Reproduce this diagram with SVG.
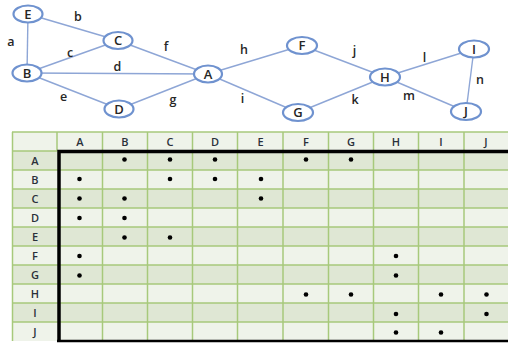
<svg xmlns="http://www.w3.org/2000/svg" width="508" height="345" viewBox="0 0 508 345">
  <defs>
    <style>
      .edge { stroke: #8ea6d6; stroke-width: 1.4; fill: none; }
      .node ellipse { fill: #ffffff; stroke: #6f92cf; stroke-width: 2.2; }
      .node text, .elabel { font-family: "Open Sans", "DejaVu Sans", sans-serif; fill: #262626; text-anchor: middle; }
      .node text { font-size: 13px; font-weight: 600; }
      .elabel { font-size: 12.5px; font-weight: 600; }
      .dark { fill: #dfe7d4; }
      .light { fill: #eff3ea; }
      .grid { stroke: #a7c97b; stroke-width: 1.5; }
      .hdr { font-family: "Open Sans", "DejaVu Sans", sans-serif; font-size: 11px; font-weight: 600; fill: #2a303a; text-anchor: middle; }
      .dot { fill: #000000; }
    </style>
  </defs>
  <rect width="508" height="345" fill="#ffffff"/>

  <!-- graph edges -->
  <g id="connectors">
    <line class="edge" x1="28" y1="14" x2="27" y2="73"/>
    <line class="edge" x1="28" y1="14" x2="118" y2="40.5"/>
    <line class="edge" x1="27" y1="73" x2="118" y2="40.5"/>
    <line class="edge" x1="27" y1="73" x2="208" y2="74"/>
    <line class="edge" x1="27" y1="73" x2="119" y2="109"/>
    <line class="edge" x1="118" y1="40.5" x2="208" y2="74"/>
    <line class="edge" x1="119" y1="109" x2="208" y2="74"/>
    <line class="edge" x1="208" y1="74" x2="302" y2="45.5"/>
    <line class="edge" x1="208" y1="74" x2="298" y2="112.5"/>
    <line class="edge" x1="302" y1="45.5" x2="385" y2="77"/>
    <line class="edge" x1="298" y1="112.5" x2="385" y2="77"/>
    <line class="edge" x1="385" y1="77" x2="474" y2="49"/>
    <line class="edge" x1="385" y1="77" x2="466" y2="111.5"/>
    <line class="edge" x1="474" y1="49" x2="466" y2="111.5"/>
    <text class="elabel" x="11" y="46">a</text>
    <text class="elabel" x="78" y="21">b</text>
    <text class="elabel" x="70" y="57">c</text>
    <text class="elabel" x="117.5" y="71">d</text>
    <text class="elabel" x="63.5" y="101">e</text>
    <text class="elabel" x="166" y="51">f</text>
    <text class="elabel" x="173" y="104">g</text>
    <text class="elabel" x="244" y="54">h</text>
    <text class="elabel" x="242.5" y="103">i</text>
    <text class="elabel" x="354.5" y="55">j</text>
    <text class="elabel" x="355" y="104">k</text>
    <text class="elabel" x="424.5" y="62">l</text>
    <text class="elabel" x="409" y="100">m</text>
    <text class="elabel" x="480" y="84">n</text>
  </g>

  <!-- graph nodes -->
  <g id="node-E" class="node"><ellipse cx="28" cy="14" rx="14.5" ry="8.5"/><text x="28" y="18.5">E</text></g>
  <g id="node-C" class="node"><ellipse cx="118" cy="40.5" rx="14.5" ry="8.5"/><text x="118" y="45">C</text></g>
  <g id="node-B" class="node"><ellipse cx="27" cy="73" rx="14.5" ry="8.5"/><text x="27" y="77.5">B</text></g>
  <g id="node-A" class="node"><ellipse cx="208" cy="74" rx="14" ry="8.5"/><text x="208" y="78.5">A</text></g>
  <g id="node-D" class="node"><ellipse cx="119" cy="109" rx="14.5" ry="8.5"/><text x="119" y="113.5">D</text></g>
  <g id="node-F" class="node"><ellipse cx="302" cy="45.5" rx="15" ry="8.5"/><text x="302" y="50">F</text></g>
  <g id="node-G" class="node"><ellipse cx="298" cy="112.5" rx="15" ry="8.5"/><text x="298" y="117">G</text></g>
  <g id="node-H" class="node"><ellipse cx="385" cy="77" rx="15" ry="8.5"/><text x="385" y="81.5">H</text></g>
  <g id="node-I" class="node"><ellipse cx="474" cy="49" rx="15" ry="8.5"/><text x="474" y="53.5">I</text></g>
  <g id="node-J" class="node"><ellipse cx="466" cy="111.5" rx="15" ry="8.5"/><text x="466" y="116">J</text></g>

  <!-- adjacency matrix -->
  <g id="matrix">
    <!-- row fills -->
    <rect class="light" x="12" y="132" width="496" height="19"/>
    <rect class="dark" x="12" y="151" width="496" height="19"/>
    <rect class="light" x="12" y="170" width="496" height="19"/>
    <rect class="dark" x="12" y="189" width="496" height="19"/>
    <rect class="light" x="12" y="208" width="496" height="19"/>
    <rect class="dark" x="12" y="227" width="496" height="19"/>
    <rect class="light" x="12" y="246" width="496" height="19"/>
    <rect class="dark" x="12" y="265" width="496" height="19"/>
    <rect class="light" x="12" y="284" width="496" height="19"/>
    <rect class="dark" x="12" y="303" width="496" height="19"/>
    <rect class="light" x="12" y="322" width="496" height="19"/>
    <!-- grid -->
    <g class="grid">
      <line x1="12" y1="132" x2="508" y2="132"/>
      <line x1="12" y1="170" x2="508" y2="170"/>
      <line x1="12" y1="189" x2="508" y2="189"/>
      <line x1="12" y1="208" x2="508" y2="208"/>
      <line x1="12" y1="227" x2="508" y2="227"/>
      <line x1="12" y1="246" x2="508" y2="246"/>
      <line x1="12" y1="265" x2="508" y2="265"/>
      <line x1="12" y1="284" x2="508" y2="284"/>
      <line x1="12" y1="303" x2="508" y2="303"/>
      <line x1="12" y1="322" x2="508" y2="322"/>
      <line x1="12.5" y1="132" x2="12.5" y2="341"/>
      <line x1="102.5" y1="132" x2="102.5" y2="341"/>
      <line x1="147.5" y1="132" x2="147.5" y2="341"/>
      <line x1="192.5" y1="132" x2="192.5" y2="341"/>
      <line x1="237.5" y1="132" x2="237.5" y2="341"/>
      <line x1="283" y1="132" x2="283" y2="341"/>
      <line x1="328.5" y1="132" x2="328.5" y2="341"/>
      <line x1="373.5" y1="132" x2="373.5" y2="341"/>
      <line x1="418.5" y1="132" x2="418.5" y2="341"/>
      <line x1="464" y1="132" x2="464" y2="341"/>
      <line x1="57" y1="132" x2="57" y2="151"/>
      <line x1="12" y1="151" x2="57" y2="151"/>
    </g>
    <!-- heavy outline around the data cells -->
    <path d="M59 341 V151.5 H510" fill="none" stroke="#000" stroke-width="3.5"/>
    <line x1="57" y1="341" x2="510" y2="341" stroke="#000" stroke-width="2.5"/>

    <!-- column headers -->
    <text class="hdr" x="80" y="145.5">A</text>
    <text class="hdr" x="125" y="145.5">B</text>
    <text class="hdr" x="170" y="145.5">C</text>
    <text class="hdr" x="215" y="145.5">D</text>
    <text class="hdr" x="260.5" y="145.5">E</text>
    <text class="hdr" x="306" y="145.5">F</text>
    <text class="hdr" x="351" y="145.5">G</text>
    <text class="hdr" x="396" y="145.5">H</text>
    <text class="hdr" x="441" y="145.5">I</text>
    <text class="hdr" x="486" y="145.5">J</text>
    <!-- row headers -->
    <text class="hdr" x="35" y="164.5">A</text>
    <text class="hdr" x="35" y="183.5">B</text>
    <text class="hdr" x="35" y="202.5">C</text>
    <text class="hdr" x="35" y="221.5">D</text>
    <text class="hdr" x="35" y="240.5">E</text>
    <text class="hdr" x="35" y="259.5">F</text>
    <text class="hdr" x="35" y="278.5">G</text>
    <text class="hdr" x="35" y="297.5">H</text>
    <text class="hdr" x="35" y="316.5">I</text>
    <text class="hdr" x="35" y="335.5">J</text>

    <!-- adjacency marks -->
    <g class="dot">
      <!-- A -->
      <circle cx="124.5" cy="159.5" r="2.3"/><circle cx="170" cy="159.5" r="2.3"/><circle cx="215" cy="159.5" r="2.3"/><circle cx="306" cy="159.5" r="2.3"/><circle cx="351" cy="159.5" r="2.3"/>
      <!-- B -->
      <circle cx="79.5" cy="179" r="2.3"/><circle cx="170" cy="179" r="2.3"/><circle cx="215" cy="179" r="2.3"/><circle cx="261" cy="179" r="2.3"/>
      <!-- C -->
      <circle cx="79.5" cy="198.5" r="2.3"/><circle cx="124.5" cy="198.5" r="2.3"/><circle cx="261" cy="198.5" r="2.3"/>
      <!-- D -->
      <circle cx="79.5" cy="218" r="2.3"/><circle cx="124.5" cy="218" r="2.3"/>
      <!-- E -->
      <circle cx="124.5" cy="237.5" r="2.3"/><circle cx="170" cy="237.5" r="2.3"/>
      <!-- F -->
      <circle cx="79.5" cy="256" r="2.3"/><circle cx="396" cy="256" r="2.3"/>
      <!-- G -->
      <circle cx="79.5" cy="275.5" r="2.3"/><circle cx="396" cy="275.5" r="2.3"/>
      <!-- H -->
      <circle cx="306" cy="294.5" r="2.3"/><circle cx="351" cy="294.5" r="2.3"/><circle cx="441" cy="294.5" r="2.3"/><circle cx="486.5" cy="294.5" r="2.3"/>
      <!-- I -->
      <circle cx="396" cy="314" r="2.3"/><circle cx="486.5" cy="314" r="2.3"/>
      <!-- J -->
      <circle cx="396" cy="332.5" r="2.3"/><circle cx="441" cy="332.5" r="2.3"/>
    </g>
  </g>
</svg>
